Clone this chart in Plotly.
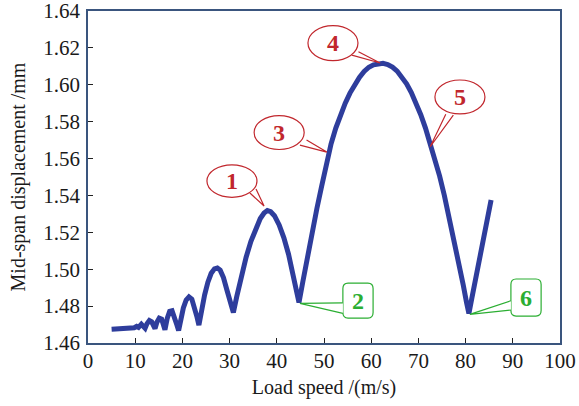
import plotly.graph_objects as go

# ---- data ----
speed = [5.0, 6.5, 8.0, 9.0, 9.8, 10.3, 10.7, 11.3, 11.7,
         12.1, 12.5, 13.0, 13.5, 13.9,
         14.2, 14.6, 15.1, 15.6, 16.0,
         16.3, 16.8, 17.3, 17.8, 18.3, 18.8,
         19.2, 19.7, 20.2, 20.8, 21.4, 22.0, 22.6, 23.1,
         23.5, 24.0, 24.7, 25.4, 26.1, 26.8, 27.4, 28.0, 28.7, 29.4, 30.1,
         30.8, 31.5, 32.5, 33.5, 34.5, 35.5, 36.5, 37.3, 38.0, 38.7, 39.5, 40.5,
         41.5, 42.5, 43.5, 44.2,
         44.7, 45.5, 46.5, 47.5, 48.5, 49.5, 50.5, 51.5, 52.5, 53.5, 54.5, 55.5,
         56.5, 57.5, 58.5, 59.5, 60.5, 61.5, 62.5, 63.5, 64.5, 65.5, 66.5, 67.5,
         68.5, 69.5, 70.5, 71.5, 72.5, 73.5, 74.5, 75.5, 76.5, 77.5, 78.5, 79.5,
         80.2, 80.7, 81.3, 82.0, 83.0, 84.0, 85.0, 85.4]
displacement = [1.4675, 1.4676, 1.4678, 1.4680, 1.4683, 1.4690, 1.4685, 1.4702, 1.4695,
                1.4680, 1.4705, 1.4722, 1.4715, 1.4695,
                1.4678, 1.4712, 1.4735, 1.4730, 1.4705,
                1.4672, 1.4735, 1.4772, 1.4775, 1.4745, 1.4700,
                1.4668, 1.4735, 1.4790, 1.4833, 1.4850, 1.4838, 1.4795, 1.4740,
                1.4697, 1.4770, 1.4860, 1.4930, 1.4978, 1.5002, 1.5007, 1.4995, 1.4955,
                1.4890, 1.4820,
                1.4765, 1.4850, 1.4965, 1.5065, 1.5150, 1.5220, 1.5275, 1.5305, 1.5318,
                1.5312, 1.5290, 1.5240, 1.5170, 1.5080, 1.4970, 1.4885,
                1.4820, 1.4930, 1.5070, 1.5205, 1.5330, 1.5450, 1.5575, 1.5680, 1.5765,
                1.5840, 1.5900, 1.5955, 1.6000, 1.6040, 1.6072, 1.6095, 1.6108, 1.6115,
                1.6116, 1.6110, 1.6096, 1.6074, 1.6044, 1.6005, 1.5958, 1.5902, 1.5838,
                1.5765, 1.5685, 1.5598, 1.5505, 1.5400, 1.5285, 1.5165, 1.5040, 1.4915,
                1.4820, 1.4760, 1.4840, 1.4930, 1.5060, 1.5190, 1.5320, 1.5375]

x_ticks = [0, 10, 20, 30, 40, 50, 60, 70, 80, 90, 100]
y_ticks = [1.46, 1.48, 1.50, 1.52, 1.54, 1.56, 1.58, 1.60, 1.62, 1.64]
y_tick_text = ["1.46", "1.48", "1.50", "1.52", "1.54", "1.56", "1.58", "1.60", "1.62", "1.64"]

# callout labels
red_labels = ["1", "3", "4", "5"]
green_labels = ["2", "6"]

# ---- styling ----
LINE_BLUE = "#2E3D9C"
FRAME = "#3A557E"
RED = "#C1272D"
GREEN = "#2BAE32"
SERIF = "Liberation Serif, Times New Roman, serif"

fig = go.Figure()
fig.add_trace(go.Scatter(x=speed, y=displacement, mode="lines",
                         line=dict(color=LINE_BLUE, width=5), hoverinfo="skip",
                         showlegend=False))

shapes = []
annotations = []

# red elliptical callouts: (center, half-size, base1, base2, tip)
red_callouts = [
    ((30.5, 1.5478), (5.3, 0.0088), (34.3, 1.5413), (35.6, 1.5435), (37.3, 1.5343)),
    ((40.5, 1.5741), (5.3, 0.0092), (44.9, 1.5673), (46.3, 1.5701), (50.6, 1.5635)),
    ((51.9, 1.6226), (5.3, 0.0095), (55.9, 1.6161), (57.3, 1.6179), (61.9, 1.6118)),
    ((78.8, 1.5934), (5.3, 0.0092), (75.8, 1.5840), (77.4, 1.5836), (72.5, 1.5664)),
]
for lab, (c, r, b1, b2, tip) in zip(red_labels, red_callouts):
    shapes.append(dict(type="circle", xref="x", yref="y",
                       x0=c[0] - r[0], x1=c[0] + r[0], y0=c[1] - r[1], y1=c[1] + r[1],
                       line=dict(color=RED, width=1.2), fillcolor="white", layer="above"))
    shapes.append(dict(type="path", xref="x", yref="y",
                       path=f"M {b1[0]},{b1[1]} L {tip[0]},{tip[1]} L {b2[0]},{b2[1]}",
                       line=dict(color=RED, width=1.2), fillcolor="white", layer="above"))
    annotations.append(dict(x=c[0], y=c[1], xref="x", yref="y", text=f"<b>{lab}</b>",
                            showarrow=False, font=dict(family=SERIF, size=24, color=RED)))


def rounded_rect(x0, y0, x1, y1, rx, ry):
    return (f"M {x0+rx},{y0} L {x1-rx},{y0} Q {x1},{y0} {x1},{y0+ry} "
            f"L {x1},{y1-ry} Q {x1},{y1} {x1-rx},{y1} L {x0+rx},{y1} "
            f"Q {x0},{y1} {x0},{y1-ry} L {x0},{y0+ry} Q {x0},{y0} {x0+rx},{y0} Z")


# green rounded boxes: (box, base1, base2, tip)
green_callouts = [
    ((54.0, 1.4735, 60.4, 1.4925), (54.0, 1.4818), (54.0, 1.4761), (44.9, 1.4815)),
    ((89.6, 1.4746, 96.0, 1.4947), (89.6, 1.4829), (89.6, 1.4779), (80.9, 1.4755)),
]
for lab, (box, b1, b2, tip) in zip(green_labels, green_callouts):
    x0, y0, x1, y1 = box
    shapes.append(dict(type="path", xref="x", yref="y",
                       path=rounded_rect(x0, y0, x1, y1, 1.1, 0.003),
                       line=dict(color=GREEN, width=1.2), fillcolor="white", layer="above"))
    shapes.append(dict(type="path", xref="x", yref="y",
                       path=f"M {b1[0]},{b1[1]} L {tip[0]},{tip[1]} L {b2[0]},{b2[1]}",
                       line=dict(color=GREEN, width=1.2), fillcolor="white", layer="above"))
    annotations.append(dict(x=(x0 + x1) / 2, y=(y0 + y1) / 2, xref="x", yref="y",
                            text=f"<b>{lab}</b>", showarrow=False,
                            font=dict(family=SERIF, size=24, color=GREEN)))

fig.update_layout(
    width=579, height=406,
    margin=dict(l=88, r=19, t=11, b=63),
    paper_bgcolor="white", plot_bgcolor="white",
    font=dict(family=SERIF, size=21, color="#1a1a1a"),
    shapes=shapes, annotations=annotations,
    xaxis=dict(range=[0, 100], tickvals=x_ticks, ticks="inside", ticklen=5,
               tickcolor="#222", showline=True, linecolor=FRAME, linewidth=1.5,
               mirror=True, showgrid=False, zeroline=False, automargin=False,
               ticklabelstandoff=-2, ticklabeloverflow="allow",
               title=dict(text="Load speed /(m/s)", font=dict(size=20), standoff=8),
               tickfont=dict(size=21)),
    yaxis=dict(range=[1.46, 1.64], tickvals=y_ticks, ticktext=y_tick_text,
               ticks="inside", ticklen=5, tickcolor="#222", showline=True,
               linecolor=FRAME, linewidth=1.5, mirror=True, showgrid=False,
               zeroline=False, automargin=False, ticklabelstandoff=2,
               ticklabeloverflow="allow",
               title=dict(text="Mid-span displacement /mm", font=dict(size=20), standoff=12),
               tickfont=dict(size=21)),
)

# remove the default 8px page margin so the figure fills the window exactly
fig.write_html("out.html", config={"displayModeBar": False},
               post_script="document.body.style.margin='0px';")
